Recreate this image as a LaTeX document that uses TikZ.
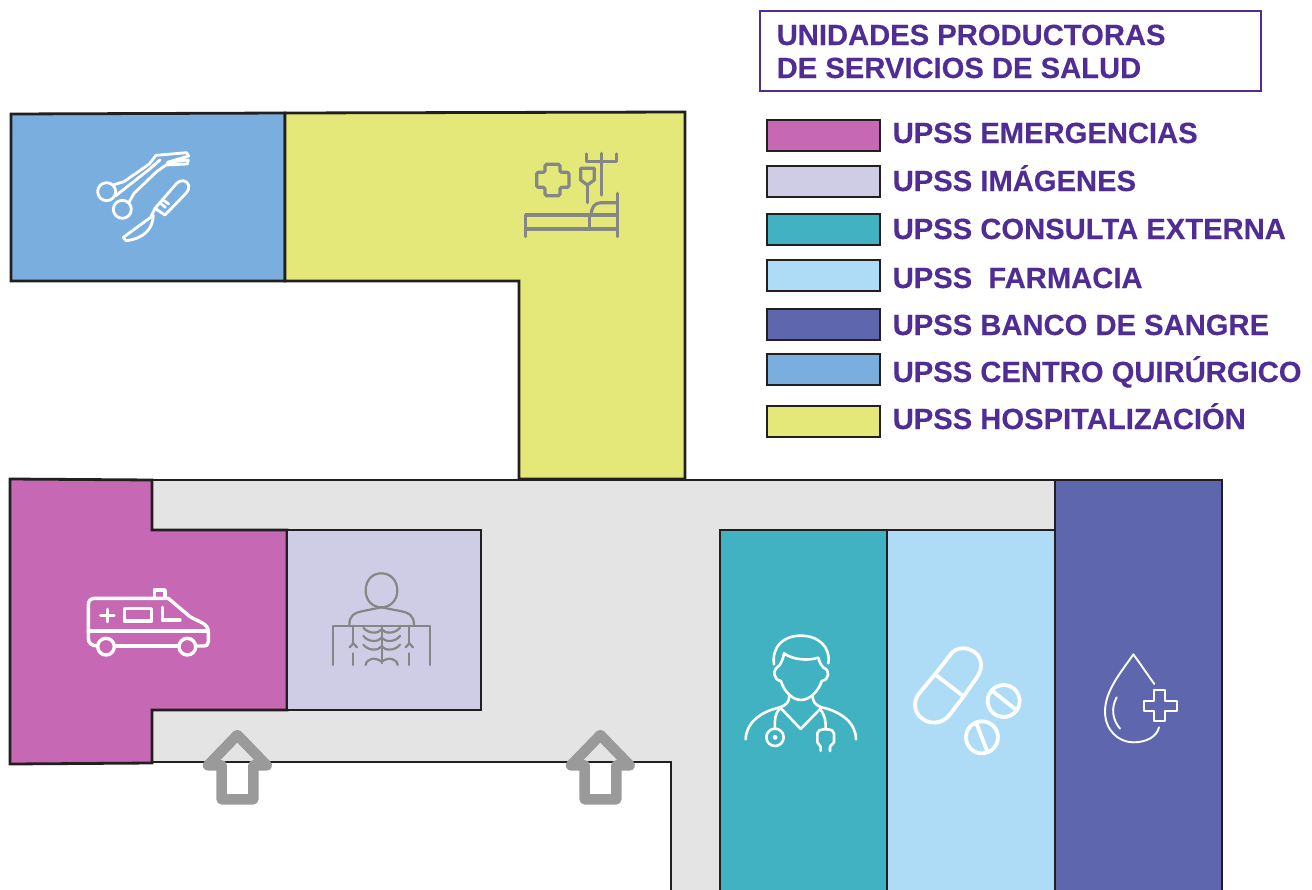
\documentclass[tikz,border=0pt]{standalone}
\usepackage{fontspec}
\setmainfont{Liberation Sans}[BoldFeatures={FakeBold=0.25}]
\definecolor{cpink}{HTML}{C668B3}
\definecolor{clav}{HTML}{CFCDE6}
\definecolor{cteal}{HTML}{41B2C1}
\definecolor{csky}{HTML}{AEDCF7}
\definecolor{cindigo}{HTML}{5E67AE}
\definecolor{cblue}{HTML}{7AAEDF}
\definecolor{cyellow}{HTML}{E3E878}
\definecolor{cgrey}{HTML}{E4E4E4}
\definecolor{cpurple}{HTML}{4F2D94}
\definecolor{carrow}{HTML}{9A9A9A}
\definecolor{cicon}{HTML}{868686}
\definecolor{cline}{HTML}{231F20}
\tikzset{
  room/.style={draw=cline,line width=2.8pt,line join=miter},
  swatch/.style={draw=cline,line width=2.4pt,minimum width=113pt,minimum height=31pt,inner sep=0pt,outer sep=0pt,anchor=north west},
  legtext/.style={text=cpurple,font=\fontsize{29.2}{33}\selectfont\bfseries,anchor=base west,inner sep=0pt},
  whiteicon/.style={draw=white,line width=2.8pt,line cap=round,line join=round},
  greyicon/.style={draw=cicon,line width=2.6pt,line cap=round,line join=round},
  inarrow/.style={draw=carrow,line width=10.5pt,line join=round},
}
\begin{document}
\begin{tikzpicture}[x=1pt,y=-1pt]
\useasboundingbox (0,0) rectangle (1312,889);
% rooms
\draw[room,fill=cgrey] (10,480) -- (1222,480) -- (1222,900) -- (671,900) -- (671,762) -- (152,762) -- (10,762) -- cycle;
\draw[room,fill=cblue] (11,114) -- (285,113) -- (285,281) -- (11,281) -- cycle;
\draw[room,fill=cyellow] (285,113) -- (685,112) -- (685,479) -- (519,479) -- (519,281) -- (285,281) -- cycle;
\draw[room,fill=cpink] (10,479) -- (152,480) -- (152,530) -- (287,530) -- (287,710) -- (152,710) -- (152,763) -- (10,764) -- cycle;
\draw[room,fill=clav] (287,530) rectangle (481,710);
\draw[room,fill=cteal] (720,530) rectangle (887,900);
\draw[room,fill=csky] (887,530) rectangle (1055,900);
\draw[room,fill=cindigo] (1055,480) rectangle (1222,900);
% entrance arrows
\begin{scope}[shift={(190,720)},x=0.3333pt,y=-0.3333pt]
\draw[inarrow] (142,45) -- (230,136) -- (190,136) -- (190,238) -- (95,238) -- (95,136) -- (54,136) -- cycle;
\end{scope}
\begin{scope}[shift={(553,720)},x=0.3333pt,y=-0.3333pt]
\draw[inarrow] (142,45) -- (230,136) -- (190,136) -- (190,238) -- (95,238) -- (95,136) -- (54,136) -- cycle;
\end{scope}
% surgical tools
\begin{scope}[shift={(60,130)},x=0.3333pt,y=-0.3333pt,whiteicon]
\draw (140,185) circle (27);
\draw (187,238) circle (27);
\draw (162,164) -- (192,155) -- (268,102) -- (288,76) -- (380,68) -- (386,78) -- (322,97) -- (385,90) -- (382,102) -- (318,105) -- (290,125) -- (222,190) -- (207,217);
\draw (166,198) -- (268,118) -- (300,90);
\draw (278,108) -- (284,104);
\draw (285,235) -- (350,160) .. controls (362,148) and (380,150) .. (386,165) .. controls (388,175) and (385,182) .. (378,190) -- (315,255) -- (285,235);
\draw (285,235) -- (272,262) -- (190,322) -- (198,332) .. controls (245,328) and (280,300) .. (280,255);
\draw (300,218) -- (316,232);
\draw (310,210) -- (326,222);
\end{scope}
% hospital bed
\begin{scope}[shift={(500,130)},x=0.3333pt,y=-0.3333pt,greyicon,line width=3.2pt]
\draw[rounded corners=1.5pt] (135,103) -- (180,103) -- (180,127) -- (207,127) -- (207,172) -- (180,172) -- (180,197) -- (135,197) -- (135,172) -- (110,172) -- (110,127) -- (135,127) -- cycle;
\draw (305,70) -- (305,195);
\draw (260,72) -- (260,95) -- (350,95) -- (350,72);
\draw (242,115) -- (283,115) -- (283,150) -- (262,165) -- (242,150) -- cycle;
\draw (262,165) -- (262,218);
\draw (77,320) -- (77,255) -- (352,255);
\draw (77,297) -- (352,297);
\draw (352,190) -- (352,320);
\draw (268,255) -- (268,297);
\draw (274,255) .. controls (274,230) and (285,218) .. (305,218) -- (352,218);
\end{scope}
% ambulance
\begin{scope}[shift={(70,570)},x=0.3333pt,y=-0.3333pt,whiteicon,line width=3.4pt]
\draw (85,228) .. controls (65,228) and (55,220) .. (55,205) -- (55,105) .. controls (55,92) and (62,85) .. (75,85) -- (295,85) -- (360,140) .. controls (385,155) and (415,160) .. (415,185) -- (415,215) .. controls (415,224) and (410,228) .. (400,228) -- (378,228);
\draw (135,228) -- (325,228);
\draw (55,183) -- (415,183);
\draw[fill=cpink] (108,230) circle (25);
\draw[fill=cpink] (352,230) circle (25);
\draw (253,85) -- (253,60) -- (285,60) -- (285,85);
\draw (92,137) -- (132,137);
\draw (112,118) -- (112,155);
\draw (163,115) rectangle (245,153);
\draw (277,112) -- (277,150) -- (330,150);
\end{scope}
% x-ray
\begin{scope}[shift={(320,560)},x=0.3333pt,y=-0.3333pt,greyicon,line width=2.2pt]
\draw (184,40) .. controls (155,40) and (137,62) .. (137,92) .. controls (137,122) and (158,142) .. (184,142) .. controls (210,142) and (232,122) .. (232,92) .. controls (232,62) and (213,40) .. (184,40) -- cycle;
\draw (88,195) .. controls (88,165) and (105,158) .. (125,154) -- (184,142) -- (245,154) .. controls (265,158) and (282,165) .. (282,195);
\draw (40,315) -- (40,197) -- (330,197) -- (330,315);
\draw (185,197) -- (185,310);
\draw (100,197) -- (100,250);
\draw (89,262) -- (100,250) -- (111,262);
\draw (100,280) -- (100,315);
\draw (268,197) -- (268,250);
\draw (257,262) -- (268,250) -- (279,262);
\draw (268,280) -- (268,315);
\draw (130,203) .. controls (145,222) and (175,222) .. (185,208) .. controls (195,222) and (225,222) .. (240,203);
\draw (130,228) .. controls (145,247) and (175,247) .. (185,233) .. controls (195,247) and (225,247) .. (240,228);
\draw (130,254) .. controls (145,273) and (175,273) .. (185,259) .. controls (195,273) and (225,273) .. (240,254);
\draw (137,315) .. controls (140,295) and (165,290) .. (185,305) .. controls (205,290) and (230,295) .. (233,315);
\end{scope}
% doctor
\begin{scope}[shift={(730,625)},x=0.3333pt,y=-0.3333pt,whiteicon,line width=2.6pt]
\draw (132,118) .. controls (125,65) and (160,32) .. (212,32) .. controls (265,32) and (302,65) .. (295,115);
\draw (148,122) .. controls (155,110) and (160,100) .. (162,85) .. controls (190,105) and (235,108) .. (265,98) .. controls (268,110) and (272,120) .. (280,128);
\draw (148,122) .. controls (125,135) and (130,165) .. (153,168) .. controls (160,195) and (185,225) .. (213,225) .. controls (240,225) and (268,195) .. (275,168) .. controls (298,165) and (302,135) .. (280,128);
\draw (178,212) .. controls (178,230) and (170,240) .. (150,247) .. controls (90,260) and (48,295) .. (47,343);
\draw (248,212) .. controls (248,230) and (255,240) .. (275,247) .. controls (335,260) and (378,295) .. (378,343);
\draw (150,247) -- (212,312) -- (275,247);
\draw (150,250) .. controls (135,265) and (133,285) .. (135,310);
\draw (135,337) circle (26);
\draw (135,337) circle (4);
\draw (270,252) .. controls (285,270) and (288,290) .. (287,312);
\draw (272,378) -- (272,365) -- (262,352) -- (262,325) .. controls (262,318) and (268,313) .. (287,313) .. controls (305,313) and (312,318) .. (312,325) -- (312,352) -- (300,365) -- (300,378);
\end{scope}
% pills
\begin{scope}[shift={(900,635)},x=0.3333pt,y=-0.3333pt,whiteicon,line width=3.8pt]
\draw (105,118) -- (157,52) .. controls (180,30) and (225,38) .. (240,72) .. controls (248,95) and (240,115) .. (230,128) -- (190,185) -- (150,238) .. controls (125,270) and (85,270) .. (60,245) .. controls (40,225) and (40,195) .. (60,172) -- cycle;
\draw (105,118) -- (192,185);
\draw (311,198) circle (48);
\draw (280,170) -- (345,222);
\draw (246,307) circle (48);
\draw (228,262) -- (262,350);
\end{scope}
% blood drop
\begin{scope}[shift={(1090,640)},x=0.3333pt,y=-0.3333pt,whiteicon,line width=1.9pt]
\draw (193,132) .. controls (170,100) and (150,70) .. (130,43) .. controls (95,95) and (45,150) .. (45,215) .. controls (45,270) and (85,307) .. (130,307) .. controls (170,307) and (200,290) .. (207,262);
\draw (80,172) .. controls (62,205) and (68,240) .. (90,266);
\draw (193,150) -- (226,150) -- (226,182) -- (260,182) -- (260,214) -- (226,214) -- (226,243) -- (193,243) -- (193,214) -- (161,214) -- (161,182) -- (193,182) -- cycle;
\end{scope}
% legend
\node[draw=cpurple,line width=2.2pt,minimum width=501pt,minimum height=80pt,inner sep=0pt,outer sep=0pt,anchor=north west] (legendbox) at (760,11) {};
\node[legtext] (title1) at (776.5,45) {UNIDADES PRODUCTORAS};
\node[legtext] (title2) at (776.5,78) {DE SERVICIOS DE SALUD};
\node[swatch,fill=cpink] (s1) at (767,120) {};
\node[swatch,fill=clav] (s2) at (767,166) {};
\node[swatch,fill=cteal] (s3) at (767,214) {};
\node[swatch,fill=csky] (s4) at (767,260) {};
\node[swatch,fill=cindigo] (s5) at (767,309) {};
\node[swatch,fill=cblue] (s6) at (767,354) {};
\node[swatch,fill=cyellow] (s7) at (767,406) {};
\node[legtext] (l1) at (892.5,143) {UPSS EMERGENCIAS};
\node[legtext] (l2) at (892.5,191) {UPSS IMÁGENES};
\node[legtext] (l3) at (892.5,239) {UPSS CONSULTA EXTERNA};
\node[legtext] (l4) at (892.5,288) {UPSS\ \ FARMACIA};
\node[legtext] (l5) at (892.5,335) {UPSS BANCO DE SANGRE};
\node[legtext] (l6) at (892.5,382) {UPSS CENTRO QUIRÚRGICO};
\node[legtext] (l7) at (892.5,429) {UPSS HOSPITALIZACIÓN};
\end{tikzpicture}
\end{document}
